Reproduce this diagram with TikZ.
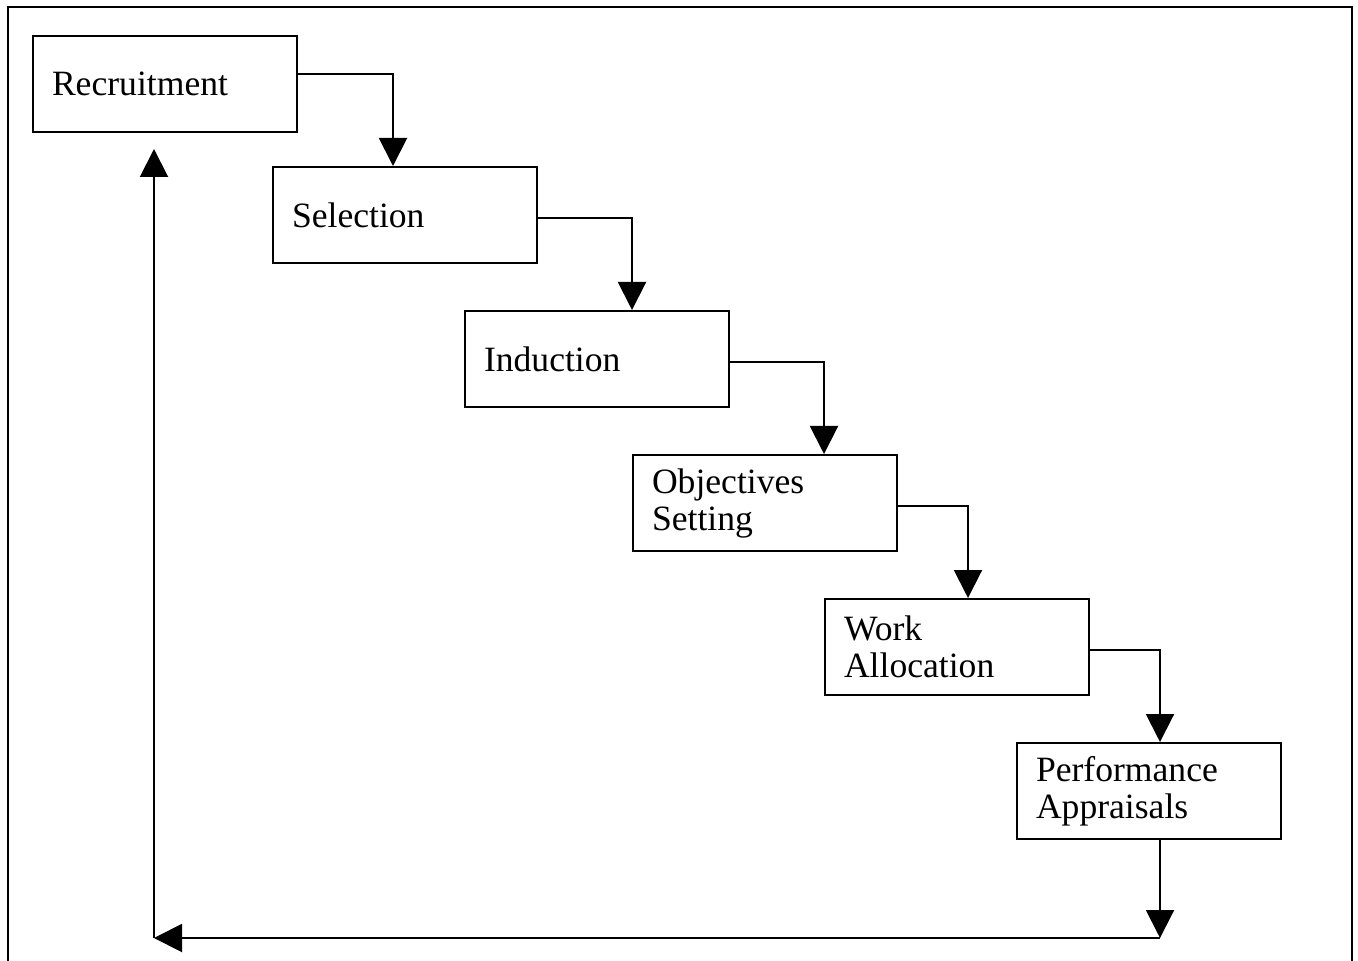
\documentclass[tikz,border=0pt]{standalone}
\usepackage{fontspec}
\setmainfont{Liberation Serif}
\usetikzlibrary{arrows.meta}
\begin{document}
\begin{tikzpicture}[x=0.5pt, y=-0.5pt]
\tikzset{stagebox/.style={shape=rectangle, draw, line width=1pt, minimum width=132pt, minimum height=48pt,
  text width=113pt, inner xsep=9.5pt, align=left, font=\fontsize{17.8}{18.5}\selectfont}}
\tikzset{flow/.style={-{Triangle[width=14pt, length=14pt]}, line width=1pt}}
\useasboundingbox (0,0) rectangle (1358,961);
% frame
\draw[line width=1pt] (7.5,1000) |- (1352,7.5) -- (1352,1000);
% stages
\node (rec)  [stagebox] at ( 165, 84) {Recruitment};
\node (sel)  [stagebox] at ( 405,215) {Selection};
\node (ind)  [stagebox] at ( 597,359) {Induction};
\node (obj)  [stagebox] at ( 765,503) {Objectives\\Setting};
\node (work) [stagebox] at ( 957,647) {Work\\Allocation};
\node (perf) [stagebox] at (1149,791) {Performance\\Appraisals};
% steps
\draw[flow] ([yshift=5pt]rec.east)     -| ([xshift=-6pt]sel.north);
\draw[flow] ([yshift=-1.5pt]sel.east)  -| ([xshift=17.5pt]ind.north);
\draw[flow] ([yshift=-1.5pt]ind.east)  -| ([xshift=29.5pt]obj.north);
\draw[flow] ([yshift=-1.5pt]obj.east)  -| ([xshift=5.5pt]work.north);
\draw[flow] ([yshift=-1.5pt]work.east) -| ([xshift=5.5pt]perf.north);
% back to the start
\coordinate (turn1) at (1160,938);
\coordinate (turn2) at (154,938);
\draw[flow] ([xshift=5.5pt]perf.south) -- (turn1);
\draw[flow] (turn1) -- (turn2);
\draw[flow, shorten >=8pt] (turn2) -- ([xshift=-5.5pt]rec.south);
\end{tikzpicture}
\end{document}
